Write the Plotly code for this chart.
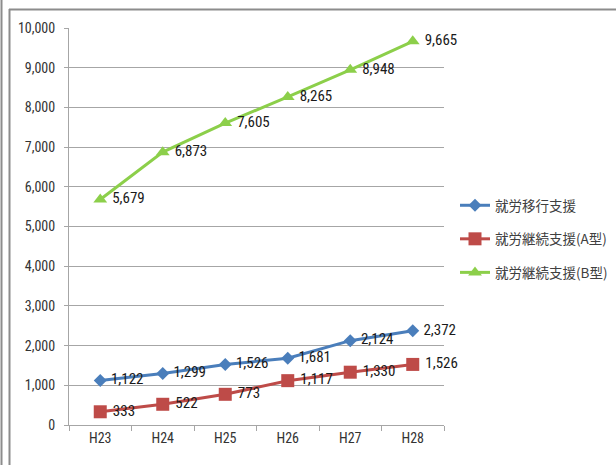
import plotly.graph_objects as go

categories = ["H23", "H24", "H25", "H26", "H27", "H28"]
series_names = ["就労移行支援", "就労継続支援(A型)", "就労継続支援(B型)"]
ikou = [1122, 1299, 1526, 1681, 2124, 2372]
keizoku_a = [333, 522, 773, 1117, 1330, 1526]
keizoku_b = [5679, 6873, 7605, 8265, 8948, 9665]
y_ticks = [0, 1000, 2000, 3000, 4000, 5000, 6000, 7000, 8000, 9000, 10000]

W, H = 616, 465
L, R, T, B = 69, 444, 28, 425

def px(x):
    return (x - L) / (R - L)

def py(y):
    return (B - y) / (B - T)

colors = ["#4A7EBB", "#BE4B48", "#8CCF4A"]
symbols = ["diamond", "square", "triangle-up"]
msizes = [10, 13, 12]
values = [ikou, keizoku_a, keizoku_b]

lab_font = "Liberation Sans Narrow, Roboto Condensed, Liberation Sans, Noto Sans CJK JP"
fig = go.Figure()
for i in range(3):
    fig.add_trace(go.Scatter(
        x=categories, y=values[i], name=series_names[i],
        mode="lines+markers+text",
        line=dict(color=colors[i], width=3),
        marker=dict(symbol=symbols[i], size=msizes[i], color=colors[i]),
        text=[f" {v:,}" for v in values[i]],
        textposition="middle right",
        textfont=dict(size=15, color="#1a1a1a", family=lab_font),
        legendgroup=f"g{i}",
        cliponaxis=False,
    ))

shapes = [
    dict(type="line", xref="paper", yref="paper", x0=px(1.5), x1=px(1.5), y0=py(0), y1=py(H),
         line=dict(color="#8c8c8c", width=2)),
    dict(type="line", xref="paper", yref="paper", x0=px(9.5), x1=px(9.5), y0=py(9), y1=py(H),
         line=dict(color="#8c8c8c", width=2)),
    dict(type="line", xref="paper", yref="paper", x0=px(9), x1=px(W), y0=py(9.5), y1=py(9.5),
         line=dict(color="#8c8c8c", width=2)),
]

fig.update_layout(
    width=W, height=H,
    margin=dict(l=L, r=W - R, t=T, b=H - B, autoexpand=False),
    paper_bgcolor="white", plot_bgcolor="white",
    font=dict(family=lab_font, size=14, color="#333333"),
    shapes=shapes,
    showlegend=True,
    legend=dict(
        x=px(455), y=py(190), xanchor="left", yanchor="top",
        font=dict(size=13.5, family="Noto Sans CJK JP", color="#404040"),
        tracegroupgap=13, itemwidth=30,
        bgcolor="rgba(0,0,0,0)",
    ),
    xaxis=dict(
        type="category", range=[-0.5, 5.5],
        showline=True, linecolor="#a6a6a6", linewidth=1,
        ticks="outside", tickson="boundaries", ticklen=5, tickcolor="#a6a6a6",
        showgrid=False, tickfont=dict(size=14, color="#333333"),
        fixedrange=True,
    ),
    yaxis=dict(
        range=[0, 10000], tickvals=y_ticks,
        ticktext=[f"{v:,}" for v in y_ticks],
        showline=True, linecolor="#a6a6a6", linewidth=1,
        ticks="outside", ticklen=4, tickcolor="#a6a6a6",
        showgrid=True, gridcolor="#a6a6a6", gridwidth=1,
        zeroline=False, tickfont=dict(size=14, color="#333333"),
        ticklabelstandoff=6,
    ),
)

fig.write_html("out.html")
